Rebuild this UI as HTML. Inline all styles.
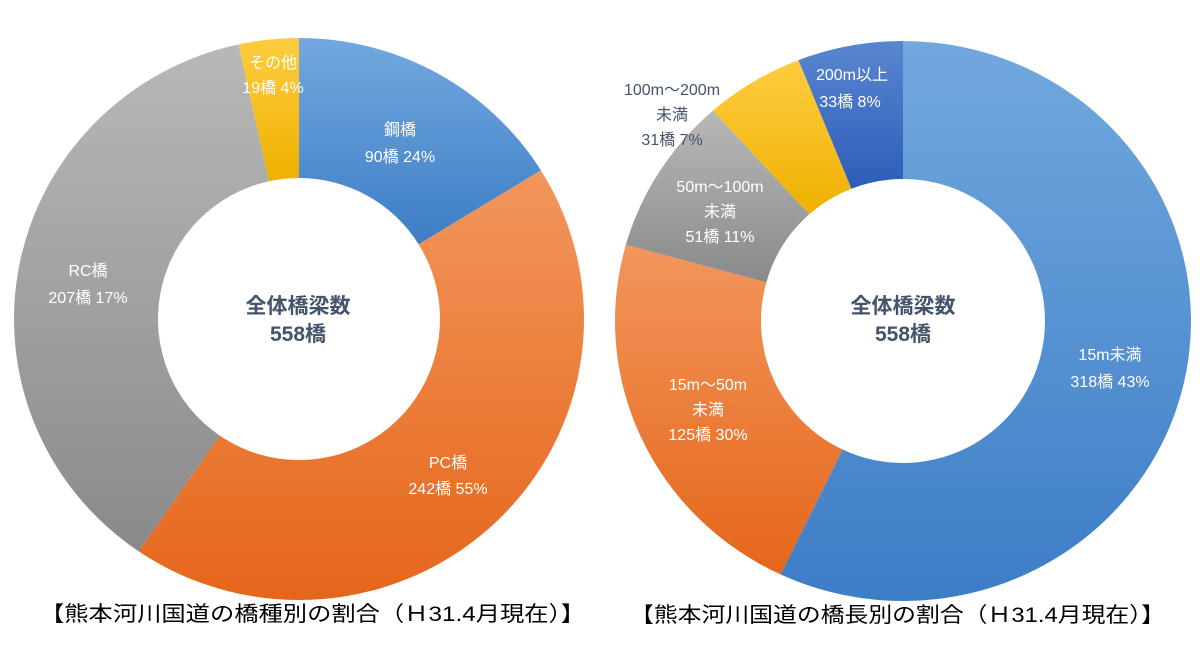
<!DOCTYPE html><html><head><meta charset="utf-8"><style>
body{margin:0;background:#fff;width:1200px;height:642px;overflow:hidden}
svg text{font-family:"Liberation Sans","Noto Sans CJK JP",sans-serif}
</style></head><body>
<svg id="s" width="1200" height="642" xmlns="http://www.w3.org/2000/svg">
<defs>
<linearGradient id="gb" x1="0" y1="0" x2="0" y2="1"><stop offset="0" stop-color="#72a8de"/><stop offset="1" stop-color="#3d7dc6"/></linearGradient>
<linearGradient id="go" x1="0" y1="0" x2="0" y2="1"><stop offset="0" stop-color="#f2965c"/><stop offset="1" stop-color="#e5661a"/></linearGradient>
<linearGradient id="gg" x1="0" y1="0" x2="0" y2="1"><stop offset="0" stop-color="#b8b8b8"/><stop offset="1" stop-color="#8a8a8a"/></linearGradient>
<linearGradient id="gy" x1="0" y1="0" x2="0" y2="1"><stop offset="0" stop-color="#ffcc40"/><stop offset="1" stop-color="#eeb100"/></linearGradient>
<linearGradient id="gd" x1="0" y1="0" x2="0" y2="1"><stop offset="0" stop-color="#5a86d0"/><stop offset="1" stop-color="#2c5db8"/></linearGradient>
</defs>
<g id="L"></g><g id="R"></g>
<g font-size="16" fill="#fff" text-anchor="middle">
<text x="273" y="68">その他</text><text x="273" y="93">19橋 4%</text>
<text x="400" y="135">鋼橋</text><text x="400" y="162">90橋 24%</text>
<text x="448" y="468">PC橋</text><text x="448" y="494">242橋 55%</text>
<text x="88" y="276">RC橋</text><text x="88" y="303">207橋 17%</text>
<text x="852" y="80">200m以上</text><text x="850" y="107">33橋 8%</text>
<text x="672" y="95" fill="#44546a">100m〜200m</text><text x="672" y="120" fill="#44546a">未満</text><text x="672" y="145" fill="#44546a">31橋 7%</text>
<text x="720" y="192">50m〜100m</text><text x="720" y="217">未満</text><text x="720" y="242">51橋 11%</text>
<text x="708" y="390">15m〜50m</text><text x="708" y="415">未満</text><text x="708" y="440">125橋 30%</text>
<text x="1110" y="360">15m未満</text><text x="1110" y="387">318橋 43%</text>
</g>
<g font-size="21" font-weight="bold" fill="#44546a" text-anchor="middle">
<text x="298" y="313">全体橋梁数</text><text x="298" y="341">558橋</text>
<text x="903" y="313">全体橋梁数</text><text x="903" y="341">558橋</text>
</g>
<g font-size="21" fill="#000">
<text x="40" y="621" textLength="545" lengthAdjust="spacingAndGlyphs">【熊本河川国道の橋種別の割合（Ｈ31.4月現在）】</text>
<text x="630" y="622" textLength="535" lengthAdjust="spacingAndGlyphs">【熊本河川国道の橋長別の割合（Ｈ31.4月現在）】</text>
</g>
</svg>
<script>
function donut(g,cx,cy,RX,RY,r,data){
 var tot=data.reduce(function(a,d){return a+d[0]},0),a0=0,h='';
 data.forEach(function(d){var a1=a0+d[0]/tot*2*Math.PI;
  function p(rx,ry,a){return (cx+rx*Math.sin(a)).toFixed(2)+' '+(cy-ry*Math.cos(a)).toFixed(2)}
  var lg=(a1-a0)>Math.PI?1:0;
  h+='<path fill="'+d[1]+'" d="M'+p(RX,RY,a0)+' A'+RX+' '+RY+' 0 '+lg+' 1 '+p(RX,RY,a1)+' L'+p(r,r,a1)+' A'+r+' '+r+' 0 '+lg+' 0 '+p(r,r,a0)+'Z"/>';
  a0=a1;});
 document.getElementById(g).innerHTML=h;}
donut('L',299,319,285,281,141,[[90,'url(#gb)'],[242,'url(#go)'],[207,'url(#gg)'],[19,'url(#gy)']]);
donut('R',903,321,288,280,142,[[318,'url(#gb)'],[125,'url(#go)'],[51,'url(#gg)'],[31,'url(#gy)'],[33,'url(#gd)']]);
</script>
</body></html>
